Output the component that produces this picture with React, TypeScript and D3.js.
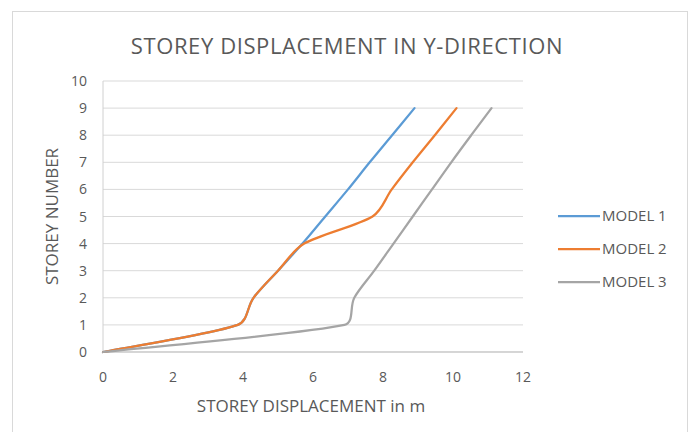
import React from "react";
import * as d3 from "d3";

const storeys = [0, 1, 2, 3, 4, 5, 6, 7, 8, 9];
const model1 = [0, 3.85, 4.3, 5.0, 5.7, 6.35, 7.0, 7.62, 8.26, 8.9];
const model2 = [0, 3.85, 4.3, 5.0, 5.75, 7.7, 8.25, 8.85, 9.48, 10.1];
const model3 = [0, 6.9, 7.18, 7.75, 8.3, 8.85, 9.4, 9.95, 10.52, 11.1];
const seriesNames = ["MODEL 1", "MODEL 2", "MODEL 3"];
const seriesColors = ["#5B9BD5", "#ED7D31", "#A5A5A5"];
const xTicks = [0, 2, 4, 6, 8, 10, 12];
const yTicks = [0, 1, 2, 3, 4, 5, 6, 7, 8, 9, 10];

const W = 691;
const H = 432;
const FONT = "'Open Sans', 'Noto Sans', sans-serif";
const TXT = "#595959";

// Excel-like smoothing: Catmull-Rom (1/6) with control arms clamped to a share of the segment length
function excelSmooth(context: any) {
  let pts: [number, number][] = [];
  return {
    areaStart() {},
    areaEnd() {},
    lineStart() {
      pts = [];
    },
    point(x: number, y: number) {
      pts.push([x, y]);
    },
    lineEnd() {
      const n = pts.length;
      if (!n) return;
      context.moveTo(pts[0][0], pts[0][1]);
      const clamp = (vx: number, vy: number, max: number): [number, number] => {
        const l = Math.hypot(vx, vy);
        if (l > max && l > 0) return [(vx * max) / l, (vy * max) / l];
        return [vx, vy];
      };
      for (let i = 0; i < n - 1; i++) {
        const p0 = pts[Math.max(0, i - 1)];
        const p1 = pts[i];
        const p2 = pts[i + 1];
        const p3 = pts[Math.min(n - 1, i + 2)];
        const seg = Math.hypot(p2[0] - p1[0], p2[1] - p1[1]);
        const lim = seg * 0.35;
        const a = clamp((p2[0] - p0[0]) / 6, (p2[1] - p0[1]) / 6, lim);
        const b = clamp((p3[0] - p1[0]) / 6, (p3[1] - p1[1]) / 6, lim);
        context.bezierCurveTo(p1[0] + a[0], p1[1] + a[1], p2[0] - b[0], p2[1] - b[1], p2[0], p2[1]);
      }
    },
  };
}

export default function App() {
  const x = d3.scaleLinear().domain([0, 12]).range([103, 523]);
  const y = d3.scaleLinear().domain([0, 10]).range([352, 81]);
  const series = [model1, model2, model3];
  const line = d3
    .line<[number, number]>()
    .x((d) => x(d[0]))
    .y((d) => y(d[1]))
    .curve(excelSmooth as any);

  return (
    <svg
      width={W}
      height={H}
      style={{ position: "absolute", left: 0, top: 0, background: "#fff" }}
      fontFamily={FONT}
    >
      <rect x={12.5} y={11.5} width={675} height={430} fill="#fff" stroke="#d9d9d9" />
      <text x={347} y={54} textAnchor="middle" fontSize={22} letterSpacing={0.6} fill={TXT}>
        STOREY DISPLACEMENT IN Y-DIRECTION
      </text>
      {yTicks.map((t) => (
        <line key={"g" + t} x1={x(0)} x2={x(12)} y1={y(t)} y2={y(t)} stroke="#d9d9d9" strokeWidth={1} />
      ))}
      <line x1={x(0)} x2={x(0)} y1={y(0)} y2={y(10)} stroke="#d0d0d0" />
      <line x1={x(0)} x2={x(12)} y1={y(0)} y2={y(0)} stroke="#bfbfbf" />
      {yTicks.map((t) => (
        <text key={"yl" + t} x={87} y={y(t) + 5} textAnchor="end" fontSize={14} fill={TXT}>
          {t}
        </text>
      ))}
      {xTicks.map((t) => (
        <text key={"xl" + t} x={x(t)} y={382} textAnchor="middle" fontSize={14} fill={TXT}>
          {t}
        </text>
      ))}
      <text x={311} y={412} textAnchor="middle" fontSize={17} fill={TXT}>
        STOREY DISPLACEMENT in m
      </text>
      <text
        transform={`translate(58, ${(y(0) + y(10)) / 2}) rotate(-90)`}
        textAnchor="middle"
        fontSize={17}
        fill={TXT}
      >
        STOREY NUMBER
      </text>
      {series.map((s, i) => (
        <path
          key={"s" + i}
          d={line(s.map((v, j) => [v, storeys[j]] as [number, number])) || ""}
          fill="none"
          stroke={seriesColors[i]}
          strokeWidth={2.25}
          strokeLinecap="round"
        />
      ))}
      {seriesNames.map((n, i) => (
        <g key={"lg" + i} transform={`translate(0, ${216 + i * 33})`}>
          <line x1={558} x2={600} y1={0} y2={0} stroke={seriesColors[i]} strokeWidth={2.25} />
          <text x={602} y={5} fontSize={15} fill={TXT}>
            {n}
          </text>
        </g>
      ))}
    </svg>
  );
}
